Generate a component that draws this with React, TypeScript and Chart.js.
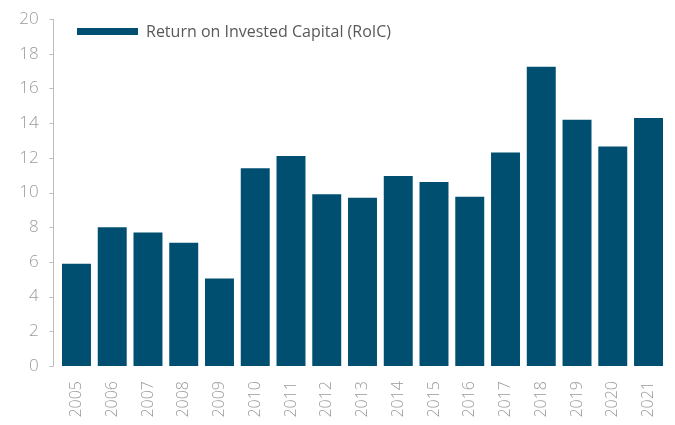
import React, { useEffect, useRef } from "react";
import { Chart, registerables } from "chart.js";

Chart.register(...registerables);

const years = ["2005","2006","2007","2008","2009","2010","2011","2012","2013","2014","2015","2016","2017","2018","2019","2020","2021"];
const roic = [5.9, 8.0, 7.7, 7.1, 5.05, 11.4, 12.1, 9.9, 9.7, 10.95, 10.6, 9.75, 12.3, 17.25, 14.2, 12.65, 14.3];
const yMin = 0;
const yMax = 20;
const yStep = 2;
const seriesLabel = "Return on Invested Capital (RoIC)";
const barColor = "#004f71";
const axisColor = "#bdbdbd";

const axisLinePlugin = {
  id: "axisLine",
  afterDraw(chart: any) {
    const { ctx, chartArea, scales } = chart;
    const y = scales.y;
    const x0 = Math.round(chartArea.left - 5.5) + 0.5;
    ctx.save();
    ctx.strokeStyle = axisColor;
    ctx.lineWidth = 1;
    ctx.beginPath();
    ctx.moveTo(x0, y.getPixelForValue(yMax));
    ctx.lineTo(x0, y.getPixelForValue(yMin));
    y.ticks.forEach((t: any) => {
      const py = Math.round(y.getPixelForValue(t.value)) + 0.5;
      ctx.moveTo(x0 - 4, py);
      ctx.lineTo(x0, py);
    });
    ctx.stroke();
    ctx.restore();
  },
};

export default function App() {
  const ref = useRef<HTMLCanvasElement | null>(null);
  useEffect(() => {
    if (!ref.current) return;
    const chart = new Chart(ref.current, {
      type: "bar",
      data: {
        labels: years,
        datasets: [{ label: seriesLabel, data: roic, backgroundColor: barColor, barPercentage: 0.81, categoryPercentage: 1 }],
      },
      options: {
        animation: false,
        responsive: false,
        layout: { padding: { top: 19, right: 8.6, left: 0, bottom: 0 } },
        plugins: { legend: { display: false }, tooltip: { enabled: false } },
        scales: {
          x: {
            grid: { display: false, drawTicks: false },
            border: { display: false },
            ticks: { minRotation: 90, maxRotation: 90, color: "#9a9a9a", font: { family: "Open Sans", size: 16, weight: "300" }, padding: 15 },
            afterFit: (s: any) => { s.height = 59; s.paddingLeft = 0; s.paddingRight = 0; },
          },
          y: {
            min: yMin, max: yMax,
            ticks: { stepSize: yStep, color: "#9a9a9a", font: { family: "Open Sans", size: 17, weight: "300" }, padding: 20 },
            grid: { display: false, drawTicks: false },
            border: { display: false },
            afterFit: (s: any) => { s.width = 58.6; s.paddingTop = 0; s.paddingBottom = 0; },
          },
        },
      },
      plugins: [axisLinePlugin],
    });
    return () => chart.destroy();
  }, []);
  return (
    <div style={{ position: "fixed", left: 0, top: 0, width: 675, height: 425, background: "#fff" }}>
      <canvas ref={ref} width={675} height={425} style={{ display: "block" }} />
      <div style={{ position: "absolute", left: 77, top: 20, display: "flex", alignItems: "center", fontFamily: "Open Sans", fontSize: 16, color: "#595959", whiteSpace: "nowrap" }}>
        <span style={{ display: "inline-block", width: 61, height: 7, background: barColor, marginRight: 8 }} />
        <span>{seriesLabel}</span>
      </div>
    </div>
  );
}
